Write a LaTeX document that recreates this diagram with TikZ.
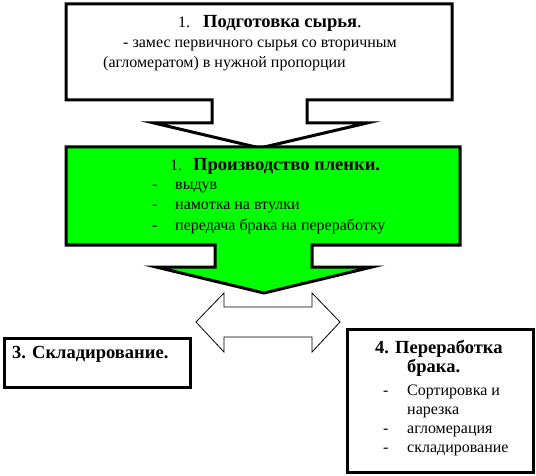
\documentclass[tikz,border=0pt]{standalone}
\usepackage{fontspec}
\setmainfont{Liberation Serif}
\definecolor{filmgreen}{RGB}{0,255,0}
\begin{document}
\begin{tikzpicture}[x=1pt,y=-1pt,
  frame/.style={line width=3pt,line join=miter},
  txt/.style={anchor=base west,inner sep=0pt,font=\fontsize{16}{19}\selectfont},
  bold/.style={anchor=base west,inner sep=0pt,font=\bfseries\fontsize{18.5}{21}\selectfont}]
  \useasboundingbox (0,0) rectangle (536,476);
  % double arrow between storage and recycling
  \draw[line width=0.8pt,fill=white] (196,322) -- (224,293) -- (224,307) -- (312,307) -- (312,293)
    -- (340,322) -- (312,352) -- (312,337) -- (224,337) -- (224,352) -- cycle;
  % callout 1: raw material
  \draw[frame,fill=white] (66,4) -- (452,4) -- (452,100) -- (307,100) -- (307,123) -- (367,123)
    -- (260,148) -- (154,123) -- (212,123) -- (212,100) -- (66,100) -- cycle;
  \node[txt] (prepnum) at (178,28) {1.};
  \node[bold] (preptitle) at (203,28) {Подготовка сырья\textmd{.}};
  \node[txt] (prepline1) at (123,48) {- замес первичного сырья со вторичным};
  \node[txt] (prepline2) at (103,68) {(агломератом) в нужной пропорции};
  % callout 2: film production
  \draw[frame,fill=filmgreen] (66,147) -- (460,147) -- (460,245) -- (312,245) -- (312,267) -- (372,267)
    -- (264,293) -- (156,267) -- (215,267) -- (215,245) -- (66,245) -- cycle;
  \node[txt] (filmnum) at (170,171) {1.};
  \node[bold] (filmtitle) at (193,171) {Производство пленки.};
  \foreach \y/\t [count=\i] in {190/выдув,210/намотка на втулки,230/передача брака на переработку} {
    \node[txt] (filmdash\i) at (152,\y) {-};
    \node[txt] (filmitem\i) at (175,\y) {\t};
  }
  % box 3: storage
  \draw[frame] (4,338) rectangle (190,387);
  \node[bold] (storetitle) at (12,358) {3. Складирование.};
  % box 4: recycling
  \draw[frame] (347,329) rectangle (533,472);
  \node[bold] (recytitle) at (375,353) {4. Переработка};
  \node[bold] (recytitle2) at (407,372) {брака.};
  \foreach \y/\t [count=\i] in {395/Сортировка и,414/нарезка,433/агломерация,452/складирование} {
    \node[txt] (recyitem\i) at (407,\y) {\t};
  }
  \foreach \y [count=\i] in {395,433,452} {
    \node[txt] (recydash\i) at (383,\y) {-};
  }
\end{tikzpicture}
\end{document}
